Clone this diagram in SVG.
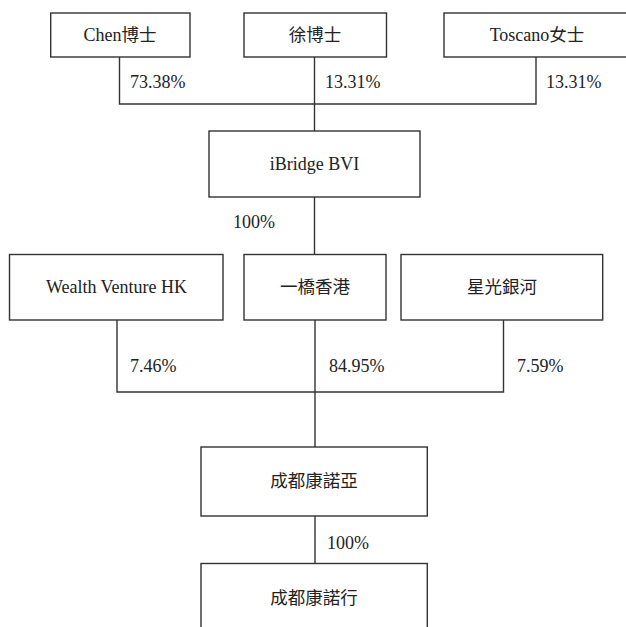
<svg xmlns="http://www.w3.org/2000/svg" width="626" height="627" viewBox="0 0 626 627">
<style>
.box{fill:#fff;stroke:#333;stroke-width:1.4}
.ln{fill:none;stroke:#333;stroke-width:1.4}
text{font-family:"Liberation Serif","Noto Sans CJK TC",serif;font-size:18px;fill:#222}
.c{text-anchor:middle}
.cjk{font-family:"Noto Sans CJK TC","Liberation Serif",sans-serif;font-size:17.5px}
</style>
<rect width="626" height="627" fill="#fff"/>
<g id="connectors">
<path class="ln" d="M119.5 57V104H536V57"/>
<path class="ln" d="M314.5 57V131"/>
<path class="ln" d="M314.5 197V254"/>
<path class="ln" d="M117 320V392H503.5V320"/>
<path class="ln" d="M315 320V447"/>
<path class="ln" d="M315 516V563"/>
<text x="130" y="88">73.38%</text>
<text x="325" y="88">13.31%</text>
<text x="546" y="88">13.31%</text>
<text x="233" y="228">100%</text>
<text x="130" y="372">7.46%</text>
<text x="329" y="372">84.95%</text>
<text x="517" y="372">7.59%</text>
<text x="327" y="549">100%</text>
</g>
<g id="chen"><rect class="box" x="50.7" y="13" width="139.3" height="44"/><text class="c" x="120" y="41">Chen<tspan class="cjk">博士</tspan></text></g>
<g id="xu"><rect class="box" x="244" y="13" width="142.5" height="44"/><text class="c cjk" x="315" y="41">徐博士</text></g>
<g id="toscano"><rect class="box" x="444" y="13" width="190" height="44"/><text class="c" x="537" y="41">Toscano<tspan class="cjk">女士</tspan></text></g>
<g id="ibridge"><rect class="box" x="209" y="131" width="211" height="66"/><text class="c" x="314.5" y="170">iBridge BVI</text></g>
<g id="wealth"><rect class="box" x="9.5" y="254.5" width="213.5" height="65.5"/><text class="c" x="116.5" y="293">Wealth Venture HK</text></g>
<g id="yiqiao"><rect class="box" x="244" y="254.5" width="142" height="65.5"/><text class="c cjk" x="315" y="293">一橋香港</text></g>
<g id="xingguang"><rect class="box" x="401" y="254.5" width="201.7" height="65.5"/><text class="c cjk" x="502" y="293">星光銀河</text></g>
<g id="kangnuoya"><rect class="box" x="201" y="447" width="226.3" height="69"/><text class="c cjk" x="314" y="487">成都康諾亞</text></g>
<g id="kangnuohang"><rect class="box" x="201" y="563.5" width="226.3" height="80"/><text class="c cjk" x="314" y="604">成都康諾行</text></g>
</svg>
